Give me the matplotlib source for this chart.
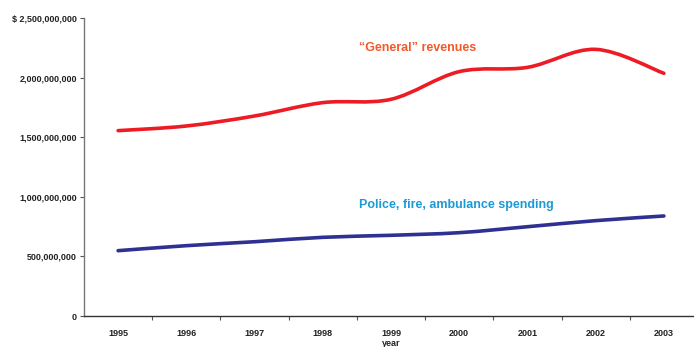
import matplotlib
matplotlib.use("Agg")
import matplotlib.pyplot as plt
from matplotlib.path import Path
from matplotlib.patches import PathPatch
from matplotlib.ticker import FuncFormatter, FixedLocator
import numpy as np

plt.rcParams['font.family'] = ['Liberation Sans', 'DejaVu Sans']

years = ['1995', '1996', '1997', '1998', '1999', '2000', '2001', '2002', '2003']
general_revenues = [1.555e9, 1.594e9, 1.678e9, 1.790e9, 1.818e9, 2.050e9, 2.086e9, 2.237e9, 2.036e9]
safety_spending = [0.548e9, 0.590e9, 0.623e9, 0.660e9, 0.677e9, 0.699e9, 0.749e9, 0.800e9, 0.839e9]


def smooth_path(xs, ys):
    # Catmull-Rom style bezier through every point (like spreadsheet "smoothed line")
    pts = np.column_stack([xs, ys]).astype(float)
    n = len(pts)
    verts = [pts[0]]
    codes = [Path.MOVETO]
    for i in range(n - 1):
        p0 = pts[i - 1] if i > 0 else pts[i]
        p1 = pts[i]
        p2 = pts[i + 1]
        p3 = pts[i + 2] if i + 2 < n else pts[i + 1]
        c1 = p1 + (p2 - p0) / 6.0
        c2 = p2 - (p3 - p1) / 6.0
        verts += [c1, c2, p2]
        codes += [Path.CURVE4] * 3
    return Path(verts, codes)


fig = plt.figure(figsize=(6.94, 3.47), dpi=100)
ax = fig.add_axes([84 / 694, 31 / 347, 614 / 694, 298 / 347])

x = np.arange(len(years))
ax.add_patch(PathPatch(smooth_path(x, general_revenues), facecolor='none',
                       edgecolor='#ED1C24', lw=2.6, capstyle='round'))
ax.add_patch(PathPatch(smooth_path(x, safety_spending), facecolor='none',
                       edgecolor='#2E3192', lw=2.6, capstyle='round'))

ax.set_xlim(-0.5, len(years) - 0.5)
ax.set_ylim(0, 2.5e9)

ax.yaxis.set_major_locator(FixedLocator(np.arange(0, 2.5e9 + 1, 5e8)))


def money(v, pos):
    if v >= 2.5e9 - 1:
        return '$ {:,.0f}'.format(v)
    return '{:,.0f}'.format(v)


ax.yaxis.set_major_formatter(FuncFormatter(money))

# category labels centred, ticks on boundaries
ax.set_xticks(x, minor=True)
ax.set_xticklabels(years, minor=True)
ax.set_xticks(np.arange(0.5, len(years) - 0.5, 1.0))
ax.set_xticklabels([])
ax.tick_params(axis='x', which='minor', length=0, pad=9, labelsize=6.5)
ax.tick_params(axis='x', which='major', length=3, width=0.8, color='#555555', direction='out')
ax.tick_params(axis='y', length=3, width=0.8, color='#555555', direction='out',
               labelsize=6.5, pad=2)
for lbl in ax.get_xticklabels(minor=True) + ax.get_yticklabels():
    lbl.set_fontweight('bold')
    lbl.set_color('#222222')

for side in ['top', 'right']:
    ax.spines[side].set_visible(False)
ax.spines['left'].set_color('#777777')
ax.spines['left'].set_linewidth(1.0)
ax.spines['bottom'].set_color('#333333')
ax.spines['bottom'].set_linewidth(1.0)

ax.set_xlabel('year', fontsize=6.5, fontweight='bold', labelpad=1, color='#222222')

ax.text(3.53, 2.25e9, '\u201cGeneral\u201d revenues', color='#F15A29', fontsize=9,
        fontweight='bold', va='center', ha='left')
ax.text(3.53, 0.935e9, 'Police, fire, ambulance spending', color='#1B9AD6', fontsize=9,
        fontweight='bold', va='center', ha='left')

fig.savefig('out.png', dpi=100)
